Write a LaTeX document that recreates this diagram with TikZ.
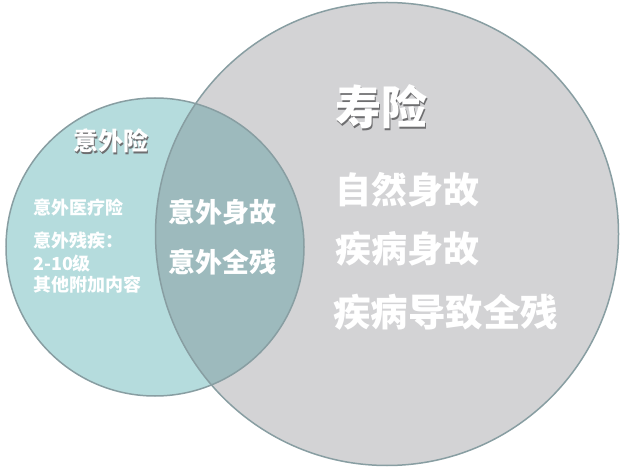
\documentclass[tikz,border=0pt]{standalone}
\usepackage{fontspec}
\newfontfamily\cjk{Noto Sans CJK SC}
\definecolor{tealfill}{RGB}{181,220,221}
\definecolor{grayfill}{RGB}{211,211,213}
\definecolor{overfill}{RGB}{157,186,189}
\definecolor{ringcol}{RGB}{136,158,162}
\definecolor{shadowcol}{RGB}{110,110,112}
\newcommand\shadowed[1]{\makebox[0pt][l]{\raisebox{-1.6pt}{\hspace{1.6pt}\textcolor{shadowcol}{#1}}}#1}
\tikzset{
  lbl/.style={anchor=west,inner sep=0pt,text=white,font=\cjk\bfseries},
  ring/.style={draw=ringcol,line width=1.5pt}
}
\begin{document}
\begin{tikzpicture}[x=1pt,y=-1pt]
\useasboundingbox (0,0) rectangle (624,470);
\fill[white] (0,0) rectangle (624,470);
% circles
\coordinate (cl) at (155,247);
\coordinate (cb) at (387,234);
\fill[tealfill] (cl) circle[radius=149pt];
\fill[grayfill] (cb) circle[radius=231.5pt];
\begin{scope}
  \clip (cl) circle[radius=149pt];
  \fill[overfill] (cb) circle[radius=231.5pt];
\end{scope}
\draw[ring] (cb) circle[radius=231.5pt];
\draw[ring] (cl) circle[radius=149pt];
% life insurance
\node[lbl,font=\cjk\bfseries\fontsize{46}{46}\selectfont] (shou) at (335,108) {\shadowed{寿险}};
\node[lbl,font=\cjk\bfseries\fontsize{36}{36}\selectfont] (l1) at (335,190) {自然身故};
\node[lbl,font=\cjk\bfseries\fontsize{36}{36}\selectfont] (l2) at (335,249) {疾病身故};
\node[lbl,font=\cjk\bfseries\fontsize{37.5}{37.5}\selectfont] (l3) at (333,312) {疾病导致全残};
% overlap
\node[lbl,font=\cjk\bfseries\fontsize{27}{27}\selectfont] (o1) at (168,212) {意外身故};
\node[lbl,font=\cjk\bfseries\fontsize{27}{27}\selectfont] (o2) at (168,262) {意外全残};
% accident insurance
\node[lbl,font=\cjk\bfseries\fontsize{25}{25}\selectfont] (yw) at (73,142) {\shadowed{意外险}};
\node[lbl,font=\cjk\bfseries\fontsize{18}{18}\selectfont] (a1) at (33,208) {意外医疗险};
\node[lbl,font=\cjk\bfseries\fontsize{18}{18}\selectfont] (a2) at (33,241) {意外残疾：};
\node[lbl,font=\cjk\bfseries\fontsize{18}{18}\selectfont] (a3) at (33,264) {2-10级};
\node[lbl,font=\cjk\bfseries\fontsize{18}{18}\selectfont] (a4) at (33,285) {其他附加内容};
\end{tikzpicture}
\end{document}
